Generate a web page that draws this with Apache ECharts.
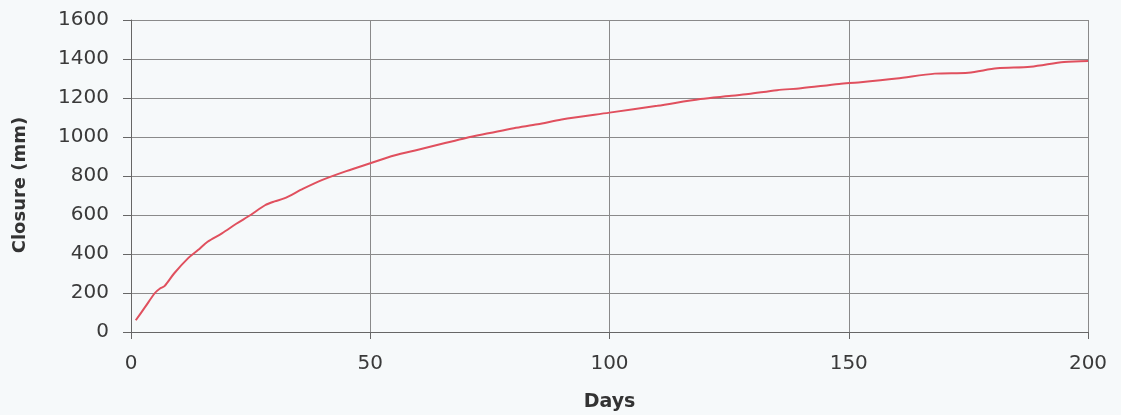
<!DOCTYPE html>
<html><head><meta charset="utf-8">
<script src="https://cdn.jsdelivr.net/npm/echarts@6/dist/echarts.min.js"></script>
<style>html,body{margin:0;padding:0;background:#f6f9fa;}#c{width:1121px;height:415px;}</style>
</head><body><div id="c"></div>
<script>
const days = [1,3,5,6,7,9,12,14,16,19,22,25,28,30,32,36,40,45,50,55,60,65,70,75,80,85,90,100,110,119,125,129,135,140,148,152,160,168,175,181,188,195,200];
const closure = [60,130,200,222,235,300,380,420,463,506,555,600,650,670,685,735,780,825,865,905,935,965,995,1020,1045,1065,1090,1125,1160,1195,1210,1220,1240,1250,1272,1280,1300,1325,1330,1352,1360,1385,1390];
const xTicks = [0,50,100,150,200];
const yTicks = [0,200,400,600,800,1000,1200,1400,1600];

const chart = echarts.init(document.getElementById('c'));
const font = 'DejaVu Sans, Verdana, sans-serif';
chart.setOption({
  backgroundColor: '#f6f9fa',
  animation: false,
  grid: {left: 131, right: 33, top: 20, bottom: 83, outerBoundsMode: 'none', containLabel: false},
  xAxis: {
    type: 'value', min: xTicks[0], max: xTicks[xTicks.length-1], interval: 50,
    name: 'Days', nameLocation: 'middle', nameGap: 61,
    nameTextStyle: {fontFamily: font, fontWeight: 'bold', fontSize: 19, color: '#333'},
    axisLine: {lineStyle: {color: '#666', width: 1}},
    axisTick: {show: true, length: 7, lineStyle: {color: '#666'}},
    axisLabel: {fontFamily: font, fontSize: 20, color: '#3a3a3a', margin: 22, formatter: v => String(v)},
    splitLine: {show: true, lineStyle: {color: '#8a8a8a', width: 1}}
  },
  yAxis: {
    type: 'value', min: yTicks[0], max: yTicks[yTicks.length-1], interval: 200,
    name: 'Closure (mm)', nameLocation: 'middle', nameGap: 102, nameRotate: 90,
    nameTextStyle: {fontFamily: font, fontWeight: 'bold', fontSize: 18, color: '#333', padding: [0, 18, 0, 0]},
    axisLine: {show: true, lineStyle: {color: '#666', width: 1}},
    axisTick: {show: true, length: 8, lineStyle: {color: '#666'}},
    axisLabel: {fontFamily: font, fontSize: 20, color: '#3a3a3a', margin: 22, formatter: v => String(v)},
    splitLine: {show: true, lineStyle: {color: '#8a8a8a', width: 1}}
  },
  series: [{
    type: 'line', data: days.map((d,i)=>[d, closure[i]]),
    showSymbol: false, smooth: 0.3,
    lineStyle: {color: '#e0505e', width: 2}
  }]
});
</script></body></html>
